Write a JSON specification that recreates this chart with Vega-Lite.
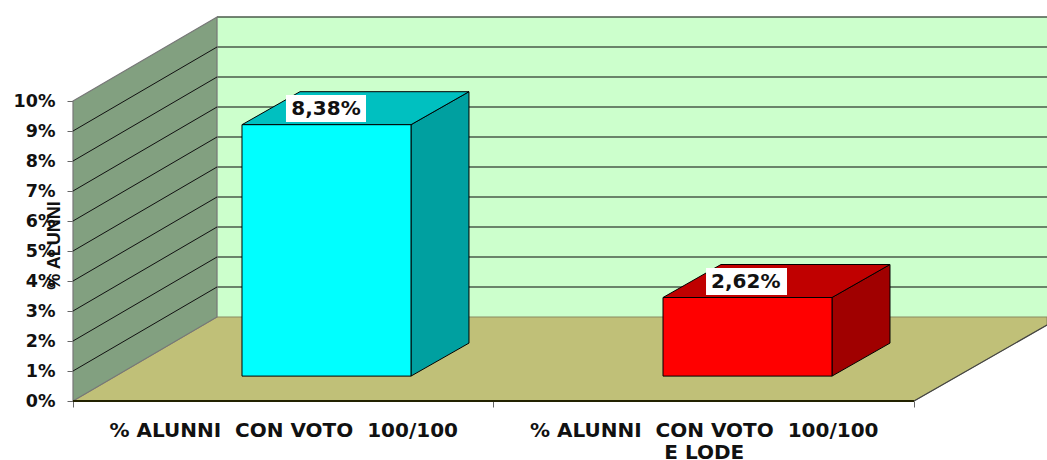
{
"$schema":"https://vega.github.io/schema/vega-lite/v6.json",
"width":974,"height":401,
"autosize":"none",
"padding":{"left":73,"top":0,"right":0,"bottom":59},
"background":"white",
"config":{"view":{"stroke":null},"font":"DejaVu Sans"},
"datasets":{
"shapes":[
{"piece":"backwall","x":0.3425,"y":12.8,"y2":2.8},{"piece":"backwall","x":2.3163,"y":12.8,"y2":2.8},
{"piece":"leftwall","x":0,"y":10,"y2":0},{"piece":"leftwall","x":0.3425,"y":12.8,"y2":2.8},
{"piece":"floor","x":0,"y":0,"y2":0},{"piece":"floor","x":0.3425,"y":2.8,"y2":0},{"piece":"floor","x":2,"y":2.8,"y2":0},{"piece":"floor","x":2.3163,"y":2.8,"y2":2.533},
{"piece":"c_front","x":0.4019,"y":9.21,"y2":0.83},{"piece":"c_front","x":0.8038,"y":9.21,"y2":0.83},
{"piece":"c_side","x":0.8038,"y":9.21,"y2":0.83},{"piece":"c_side","x":0.9417,"y":10.31,"y2":1.93},
{"piece":"c_top","x":0.4019,"y":9.21,"y2":9.21},{"piece":"c_top","x":0.5398,"y":10.31,"y2":9.21},{"piece":"c_top","x":0.8038,"y":10.31,"y2":9.21},{"piece":"c_top","x":0.9417,"y":10.31,"y2":10.31},
{"piece":"r_front","x":1.4031,"y":3.45,"y2":0.83},{"piece":"r_front","x":1.805,"y":3.45,"y2":0.83},
{"piece":"r_side","x":1.805,"y":3.45,"y2":0.83},{"piece":"r_side","x":1.9429,"y":4.55,"y2":1.93},
{"piece":"r_top","x":1.4031,"y":3.45,"y2":3.45},{"piece":"r_top","x":1.541,"y":4.55,"y2":3.45},{"piece":"r_top","x":1.805,"y":4.55,"y2":3.45},{"piece":"r_top","x":1.9429,"y":4.55,"y2":4.55}
],
"grid":[
{"k":1,"x":0,"y":1},{"k":1,"x":0.3425,"y":3.8},{"k":1,"x":2.3163,"y":3.8},
{"k":2,"x":0,"y":2},{"k":2,"x":0.3425,"y":4.8},{"k":2,"x":2.3163,"y":4.8},
{"k":3,"x":0,"y":3},{"k":3,"x":0.3425,"y":5.8},{"k":3,"x":2.3163,"y":5.8},
{"k":4,"x":0,"y":4},{"k":4,"x":0.3425,"y":6.8},{"k":4,"x":2.3163,"y":6.8},
{"k":5,"x":0,"y":5},{"k":5,"x":0.3425,"y":7.8},{"k":5,"x":2.3163,"y":7.8},
{"k":6,"x":0,"y":6},{"k":6,"x":0.3425,"y":8.8},{"k":6,"x":2.3163,"y":8.8},
{"k":7,"x":0,"y":7},{"k":7,"x":0.3425,"y":9.8},{"k":7,"x":2.3163,"y":9.8},
{"k":8,"x":0,"y":8},{"k":8,"x":0.3425,"y":10.8},{"k":8,"x":2.3163,"y":10.8},
{"k":9,"x":0,"y":9},{"k":9,"x":0.3425,"y":11.8},{"k":9,"x":2.3163,"y":11.8},
{"k":10,"x":0.3425,"y":12.8},{"k":10,"x":2.3163,"y":12.8}
],
"labels":[
{"label":"8,38%","x":0.6017,"y":9.75,"x0":0.5065,"x2":0.6968,"y0":9.3,"y2":10.2},
{"label":"2,62%","x":1.6,"y":3.983,"x0":1.5054,"x2":1.698,"y0":3.533,"y2":4.433}
],
"edges":[
{"edge":"front","x":0,"y":0},{"edge":"front","x":2,"y":0},
{"edge":"right","x":2,"y":0},{"edge":"right","x":2.3163,"y":2.533}
]
},
"encoding":{
"x":{"field":"x","type":"quantitative","scale":{"domain":[0,2.3163],"nice":false,"zero":false},
"axis":{"values":[0,0.5,1,1.5,2],"title":null,"grid":false,"domain":false,"tickSize":6,"tickColor":"#666666",
"tickOpacity":{"condition":{"test":"datum.value==0.5||datum.value==1.5","value":0},"value":1},
"labelExpr":"datum.value==0.5?'% ALUNNI\u00a0 CON VOTO\u00a0 100/100':datum.value==1.5?['% ALUNNI\u00a0 CON VOTO\u00a0 100/100','E LODE']:''",
"labelFont":"DejaVu Sans","labelFontWeight":"bold","labelFontSize":20,"labelColor":"#111111","labelPadding":13,"labelLineHeight":22,"labelOverlap":false,"labelFlush":false,"labelLimit":0}},
"y":{"field":"y","type":"quantitative","scale":{"domain":[0,13.3667],"nice":false,"zero":false},
"axis":{"values":[0,1,2,3,4,5,6,7,8,9,10],"title":"% ALUNNI","grid":false,"domain":false,"tickSize":6,"tickColor":"#666666",
"labelExpr":"datum.value+'%'",
"labelFont":"DejaVu Sans","labelFontWeight":"bold","labelFontSize":17.5,"labelColor":"#111111","labelPadding":12,"labelOverlap":false,
"titleFont":"Liberation Sans","titleFontWeight":"bold","titleFontSize":18,"titleColor":"#111111","titleX":-19,"titleY":245,"titleBaseline":"middle"}}
},
"layer":[
{"data":{"name":"shapes"},"transform":[{"filter":"datum.piece=='backwall'"}],"mark":{"type":"area","color":"#CCFFCC"},"encoding":{"y2":{"field":"y2"}}},
{"data":{"name":"grid"},"transform":[{"filter":"datum.x>0"}],"mark":{"type":"line","color":"#4a5a4a","strokeWidth":1.5},"encoding":{"detail":{"field":"k"}}},
{"data":{"name":"shapes"},"transform":[{"filter":"datum.piece=='floor'"}],"mark":{"type":"area","color":"#C0C078","stroke":"#8a8a60","strokeWidth":1},"encoding":{"y2":{"field":"y2"}}},
{"data":{"name":"shapes"},"transform":[{"filter":"datum.piece=='leftwall'"}],"mark":{"type":"area","color":"#82A080","stroke":"#777777","strokeWidth":1.2},"encoding":{"y2":{"field":"y2"}}},
{"data":{"name":"grid"},"transform":[{"filter":"datum.x<1&&datum.k<10"}],"mark":{"type":"line","color":"#111111","strokeWidth":1},"encoding":{"detail":{"field":"k"}}},
{"data":{"name":"edges"},"transform":[{"filter":"datum.edge=='front'"}],"mark":{"type":"line","color":"#222200","strokeWidth":2}},
{"data":{"name":"edges"},"transform":[{"filter":"datum.edge=='right'"}],"mark":{"type":"line","color":"#444444","strokeWidth":1.2}},
{"data":{"name":"shapes"},"transform":[{"filter":"datum.piece=='c_side'"}],"mark":{"type":"area","color":"#00A0A0","stroke":"#000000","strokeWidth":1},"encoding":{"y2":{"field":"y2"}}},
{"data":{"name":"shapes"},"transform":[{"filter":"datum.piece=='c_top'"}],"mark":{"type":"area","color":"#00C0C0","stroke":"#000000","strokeWidth":1},"encoding":{"y2":{"field":"y2"}}},
{"data":{"name":"shapes"},"transform":[{"filter":"datum.piece=='c_front'"}],"mark":{"type":"area","color":"#00FFFF","stroke":"#000000","strokeWidth":1},"encoding":{"y2":{"field":"y2"}}},
{"data":{"name":"shapes"},"transform":[{"filter":"datum.piece=='r_side'"}],"mark":{"type":"area","color":"#A00000","stroke":"#000000","strokeWidth":1},"encoding":{"y2":{"field":"y2"}}},
{"data":{"name":"shapes"},"transform":[{"filter":"datum.piece=='r_top'"}],"mark":{"type":"area","color":"#C00000","stroke":"#000000","strokeWidth":1},"encoding":{"y2":{"field":"y2"}}},
{"data":{"name":"shapes"},"transform":[{"filter":"datum.piece=='r_front'"}],"mark":{"type":"area","color":"#FF0000","stroke":"#000000","strokeWidth":1},"encoding":{"y2":{"field":"y2"}}},
{"data":{"name":"labels"},"mark":{"type":"rect","color":"white"},"encoding":{"x":{"field":"x0","type":"quantitative"},"x2":{"field":"x2"},"y":{"field":"y0","type":"quantitative"},"y2":{"field":"y2"}}},
{"data":{"name":"labels"},"mark":{"type":"text","font":"DejaVu Sans","fontWeight":"bold","fontSize":20,"color":"#111111"},"encoding":{"text":{"field":"label"}}}
]
}
